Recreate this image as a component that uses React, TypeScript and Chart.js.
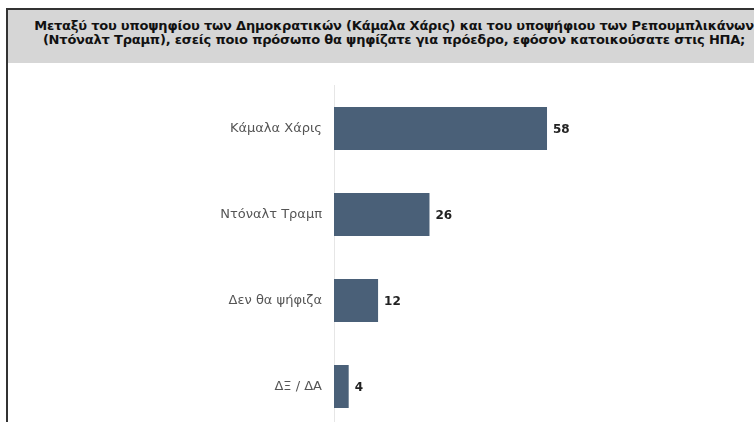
import React, { useEffect, useRef } from "react";
import { Chart, registerables } from "chart.js";

Chart.register(...registerables);

const titleLines = [
  "Μεταξύ του υποψηφίου των Δημοκρατικών (Κάμαλα Χάρις) και του υποψήφιου των Ρεπουμπλικάνων",
  "(Ντόναλτ Τραμπ), εσείς ποιο πρόσωπο θα ψηφίζατε για πρόεδρο, εφόσον κατοικούσατε στις ΗΠΑ;",
];
const categories = ["Κάμαλα Χάρις", "Ντόναλτ Τραμπ", "Δεν θα ψήφιζα", "ΔΞ / ΔΑ"];
const values = [58, 26, 12, 4];

const valueLabels = {
  id: "valueLabels",
  afterDatasetsDraw(chart: any) {
    const ctx = chart.ctx;
    const meta = chart.getDatasetMeta(0);
    ctx.save();
    ctx.font = "bold 12px 'DejaVu Sans'";
    ctx.fillStyle = "#222222";
    ctx.textAlign = "left";
    ctx.textBaseline = "middle";
    meta.data.forEach((bar: any, i: number) => {
      ctx.fillText(String(chart.data.datasets[0].data[i]), bar.x + 6, bar.y + 1);
    });
    ctx.restore();
  },
};

export default function App() {
  const ref = useRef<HTMLCanvasElement | null>(null);
  useEffect(() => {
    document.body.style.overflow = "hidden";
    const chart = new Chart(ref.current as HTMLCanvasElement, {
      type: "bar",
      data: {
        labels: categories,
        datasets: [
          {
            data: values,
            backgroundColor: "#4a6078",
            barPercentage: 1,
            categoryPercentage: 0.5,
          },
        ],
      },
      options: {
        indexAxis: "y",
        animation: false,
        responsive: false,
        maintainAspectRatio: false,
        layout: { padding: { top: 22.5, bottom: 3.5, left: 0, right: 16 } },
        plugins: { legend: { display: false }, tooltip: { enabled: false } },
        scales: {
          x: { display: false, min: 0, max: 110 },
          y: {
            afterFit(scale: any) {
              scale.width = 326;
              scale.paddingTop = 0;
              scale.paddingBottom = 0;
            },
            grid: { display: false, drawTicks: false },
            border: { display: true, color: "#e6e6e6", width: 1 },
            ticks: {
              padding: 12,
              color: "#555555",
              font: { family: "'DejaVu Sans'", size: 13 },
            },
          },
        },
      },
      plugins: [valueLabels],
    });
    return () => chart.destroy();
  }, []);

  return (
    <div
      style={{
        position: "absolute",
        left: 6,
        top: 8,
        width: 748,
        height: 414,
        overflow: "hidden",
        borderTop: "2px solid #333",
        borderLeft: "2px solid #333",
        background: "#ffffff",
        boxSizing: "border-box",
      }}
    >
      <div
        style={{
          background: "#d6d6d6",
          height: 53,
          width: 772,
          boxSizing: "border-box",
          paddingTop: 9,
          textAlign: "center",
          fontFamily: "'DejaVu Sans'",
          fontWeight: "bold",
          fontSize: 13,
          lineHeight: "14px",
          color: "#111111",
          whiteSpace: "nowrap",
          letterSpacing: "-0.2px",
        }}
      >
        <div>{titleLines[0]}</div>
        <div>{titleLines[1]}</div>
      </div>
      <canvas ref={ref} width={746} height={370} style={{ display: "block" }} />
    </div>
  );
}
